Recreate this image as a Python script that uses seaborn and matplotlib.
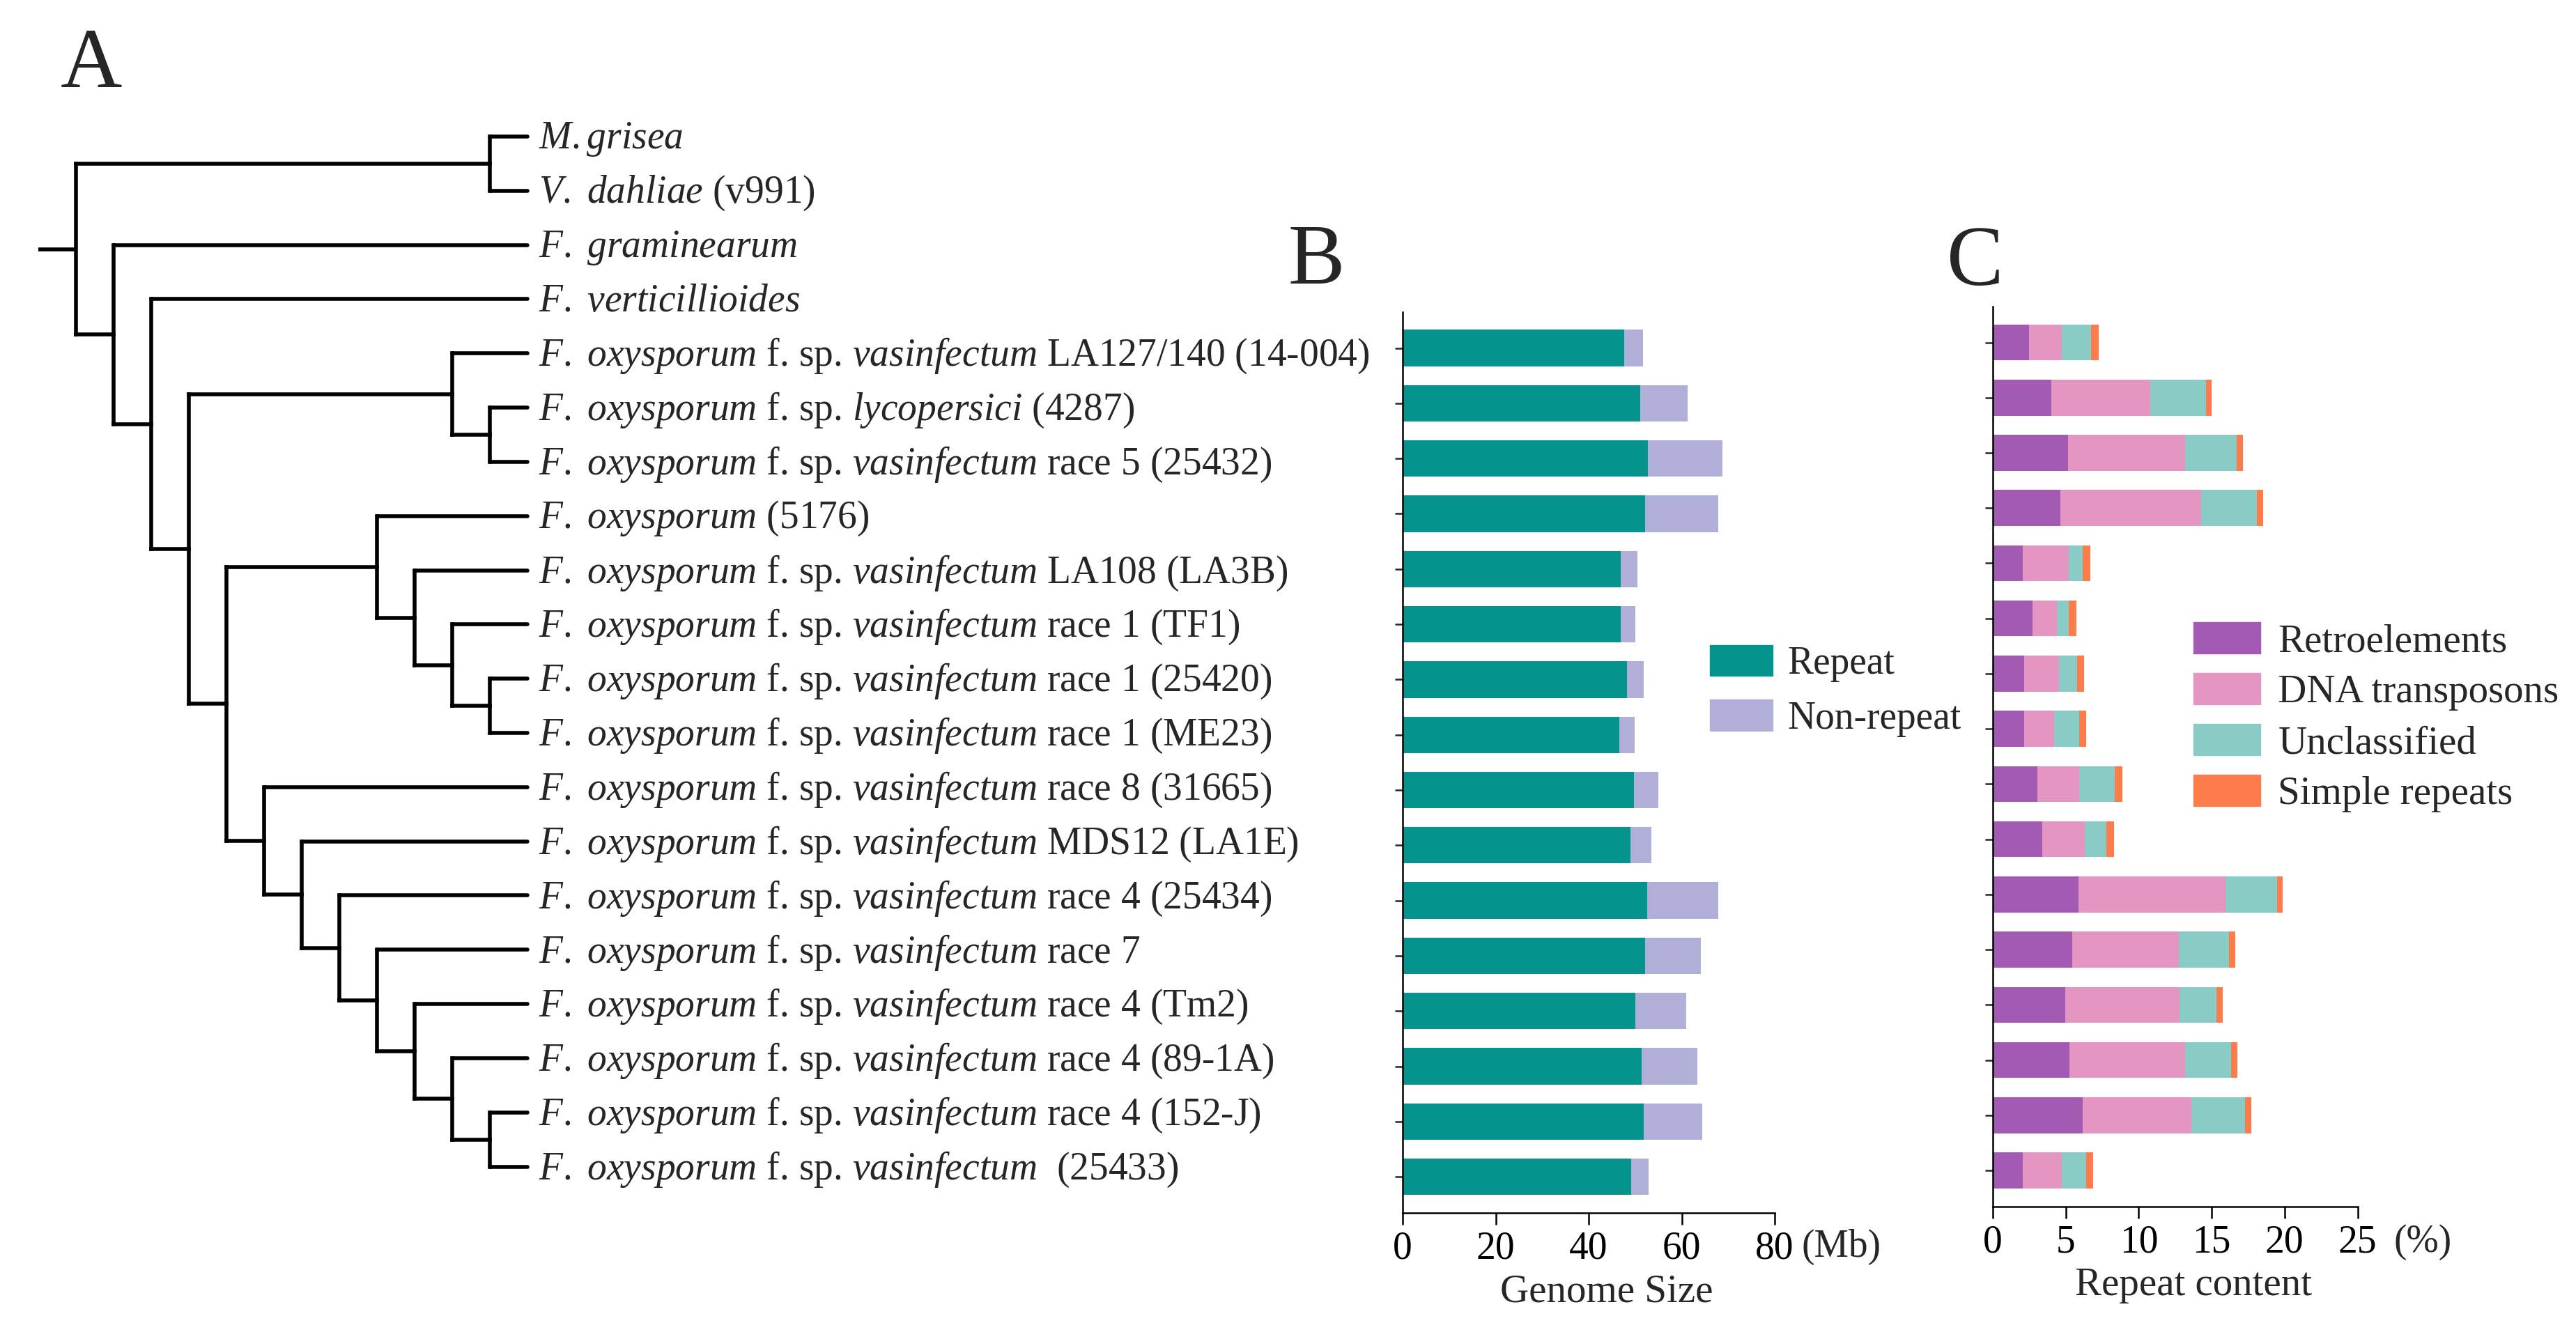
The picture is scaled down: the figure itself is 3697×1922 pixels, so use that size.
import numpy as np
import matplotlib
matplotlib.use("Agg")
import matplotlib.pyplot as plt
import matplotlib.transforms as mtransforms
from matplotlib.patches import Patch
import seaborn as sns

# ---- data ----
# leaf labels of the tree, top to bottom (mathtext italic for the latin names)
leaf_labels = [
    r"$\mathit{M.grisea}$",
    r"$\mathit{V.\ dahliae}$ (v991)",
    r"$\mathit{F.\ graminearum}$",
    r"$\mathit{F.\ verticillioides}$",
    r"$\mathit{F.\ oxysporum}$ f. sp. $\mathit{vasinfectum}$ LA127/140 (14-004)",
    r"$\mathit{F.\ oxysporum}$ f. sp. $\mathit{lycopersici}$ (4287)",
    r"$\mathit{F.\ oxysporum}$ f. sp. $\mathit{vasinfectum}$ race 5 (25432)",
    r"$\mathit{F.\ oxysporum}$ (5176)",
    r"$\mathit{F.\ oxysporum}$ f. sp. $\mathit{vasinfectum}$ LA108 (LA3B)",
    r"$\mathit{F.\ oxysporum}$ f. sp. $\mathit{vasinfectum}$ race 1 (TF1)",
    r"$\mathit{F.\ oxysporum}$ f. sp. $\mathit{vasinfectum}$ race 1 (25420)",
    r"$\mathit{F.\ oxysporum}$ f. sp. $\mathit{vasinfectum}$ race 1 (ME23)",
    r"$\mathit{F.\ oxysporum}$ f. sp. $\mathit{vasinfectum}$ race 8 (31665)",
    r"$\mathit{F.\ oxysporum}$ f. sp. $\mathit{vasinfectum}$ MDS12 (LA1E)",
    r"$\mathit{F.\ oxysporum}$ f. sp. $\mathit{vasinfectum}$ race 4 (25434)",
    r"$\mathit{F.\ oxysporum}$ f. sp. $\mathit{vasinfectum}$ race 7",
    r"$\mathit{F.\ oxysporum}$ f. sp. $\mathit{vasinfectum}$ race 4 (Tm2)",
    r"$\mathit{F.\ oxysporum}$ f. sp. $\mathit{vasinfectum}$ race 4 (89-1A)",
    r"$\mathit{F.\ oxysporum}$ f. sp. $\mathit{vasinfectum}$ race 4 (152-J)",
    r"$\mathit{F.\ oxysporum}$ f. sp. $\mathit{vasinfectum}$  (25433)",
]

# topology, leaves are indices into leaf_labels
tree = ((0, 1),
        (2, (3, ((4, (5, 6)),
                 ((7, (8, (9, (10, 11)))),
                  (12, (13, (14, (15, (16, (17, (18, 19))))))))))))

# strains with genome data (leaves 4..19)
strains = ["14-004", "4287", "25432", "5176", "LA3B", "TF1", "25420", "ME23",
           "31665", "LA1E", "25434", "race7", "Tm2", "89-1A", "152-J", "25433"]

# genome size (Mb)
repeat_mb = [47.7, 51.1, 52.7, 52.2, 46.9, 46.9, 48.2, 46.6,
             49.8, 49.0, 52.6, 52.2, 50.1, 51.4, 51.9, 49.1]
nonrepeat_mb = [4.0, 10.1, 16.1, 15.6, 3.6, 3.1, 3.7, 3.3,
                5.2, 4.5, 15.2, 11.9, 10.9, 11.9, 12.5, 3.8]

# repeat content (%)
retro = [2.49, 4.02, 5.16, 4.62, 2.05, 2.73, 2.16, 2.16,
         3.06, 3.39, 5.87, 5.44, 4.97, 5.25, 6.15, 2.05]
dna_tp = [2.26, 6.75, 8.01, 9.64, 3.17, 1.64, 2.40, 2.05,
          2.84, 2.89, 10.06, 7.29, 7.82, 7.92, 7.48, 2.70]
unclass = [1.97, 3.85, 3.55, 3.83, 0.93, 0.82, 1.21, 1.69,
           2.46, 1.51, 3.55, 3.44, 2.54, 3.17, 3.67, 1.64]
simple = [0.55, 0.38, 0.41, 0.43, 0.54, 0.55, 0.49, 0.49,
          0.52, 0.52, 0.38, 0.44, 0.44, 0.41, 0.40, 0.50]

B_colors = {"Repeat": "#04948D", "Non-repeat": "#AFAFD7"}
C_colors = {"Retroelements": "#A25AB3", "DNA transposons": "#E595C1",
            "Unclassified": "#89CCC5", "Simple repeats": "#FE7B4B"}

# ---- style ----
sns.set_theme(style="ticks")
plt.rcParams["font.family"] = ["Liberation Serif", "DejaVu Serif"]
plt.rcParams["mathtext.fontset"] = "custom"
plt.rcParams["mathtext.it"] = "Liberation Serif:italic"
plt.rcParams["mathtext.rm"] = "Liberation Serif"
plt.rcParams["axes.linewidth"] = 1.8

W, H = 3697, 1922
fig = plt.figure(figsize=(W / 100, H / 100), dpi=100)


def px_box(x0, y0, x1, y1):
    # pixel box (top-left origin) -> figure fraction rect
    return [x0 / W, 1 - y1 / H, (x1 - x0) / W, (y1 - y0) / H]


# ---- A: cladogram ----
ax_t = fig.add_axes(px_box(55, 196, 757, 1674.5))
ax_t.set_xlim(-1, 12)
ax_t.set_ylim(len(leaf_labels) - 1, 0)
ax_t.axis("off")
lw_tree = 4.0


def draw_node(node):
    """draw a subtree, return (height, y) of its root"""
    if isinstance(node, int):
        return 0, float(node)
    kids = [draw_node(k) for k in node]
    h = max(k[0] for k in kids) + 1
    x = 12 - h
    ys = [k[1] for k in kids]
    ax_t.plot([x, x], [min(ys), max(ys)], color="black", lw=lw_tree,
              solid_capstyle="projecting", clip_on=False)
    for kh, ky in kids:
        ax_t.plot([x, 12 - kh], [ky, ky], color="black", lw=lw_tree,
                  solid_capstyle="round" if kh == 0 else "projecting",
                  clip_on=False)
    return h, float(np.mean(ys))


root_h, root_y = draw_node(tree)
ax_t.plot([-1, 12 - root_h], [root_y, root_y], color="black", lw=lw_tree,
          solid_capstyle="butt", clip_on=False)
for i, lab in enumerate(leaf_labels):
    ax_t.text(12.3, i + 0.05, lab, fontsize=40, va="center", ha="left", clip_on=False)

# ---- B: genome size ----
dfB = {"strain": strains,
       "total": np.array(repeat_mb) + np.array(nonrepeat_mb),
       "repeat": np.array(repeat_mb)}
ax_b = fig.add_axes(px_box(2013, 448, 2547, 1740.7))
sns.barplot(x=dfB["total"], y=dfB["strain"], orient="h", color=B_colors["Non-repeat"],
            saturation=1, width=0.66, linewidth=0, errorbar=None, ax=ax_b)
sns.barplot(x=dfB["repeat"], y=dfB["strain"], orient="h", color=B_colors["Repeat"],
            saturation=1, width=0.66, linewidth=0, errorbar=None, ax=ax_b)

# ---- C: repeat content ----
ax_c = fig.add_axes(px_box(2860, 440, 3383.5, 1731.7))
comp = np.array([retro, dna_tp, unclass, simple])
cum = np.cumsum(comp, axis=0)
names = list(C_colors)
for k in range(3, -1, -1):
    sns.barplot(x=cum[k], y=strains, orient="h", color=C_colors[names[k]],
                saturation=1, width=0.65, linewidth=0, errorbar=None, ax=ax_c)

for ax, xmax, step in [(ax_b, 80, 20), (ax_c, 25, 5)]:
    ax.set_xlim(0, xmax)
    ax.set_ylim(15.65, -0.65)
    ax.set_xticks(np.arange(0, xmax + 1, step))
    ax.set_ylabel("")
    ax.set_xlabel("")
    ax.tick_params(axis="y", length=8, width=1.8, direction="out", labelleft=False)
    ax.tick_params(axis="x", length=12.2, width=1.8, direction="out", pad=6.5,
                   labelsize=40, colors="black")
    for s in ["left", "bottom"]:
        ax.spines[s].set_color("black")
        ax.spines[s].set_linewidth(1.8)
    sns.despine(ax=ax)

blend_b = mtransforms.blended_transform_factory(ax_b.transData, ax_b.transAxes)
ax_b.text(85.7, -0.049, "(Mb)", transform=blend_b, fontsize=40, va="baseline", ha="left")
ax_b.text(0.549, -0.0985, "Genome Size", transform=ax_b.transAxes, fontsize=41,
          va="baseline", ha="center")
blend_c = mtransforms.blended_transform_factory(ax_c.transData, ax_c.transAxes)
ax_c.text(27.46, -0.0503, "(%)", transform=blend_c, fontsize=40, va="baseline", ha="left")
ax_c.text(0.551, -0.0988, "Repeat content", transform=ax_c.transAxes, fontsize=41,
          va="baseline", ha="center")

# legends
fig.legend(handles=[Patch(color=c, label=l) for l, c in B_colors.items()],
           loc="upper left", bbox_to_anchor=(2454 / W, 1 - 926 / H),
           frameon=False, fontsize=40, handlelength=1.62, handleheight=0.85,
           handletextpad=0.38, labelspacing=0.45, borderpad=0, borderaxespad=0)
fig.legend(handles=[Patch(color=c, label=l) for l, c in C_colors.items()],
           loc="upper left", bbox_to_anchor=(3148 / W, 1 - 893 / H),
           frameon=False, fontsize=41, handlelength=1.69, handleheight=0.84,
           handletextpad=0.44, labelspacing=0.33, borderpad=0, borderaxespad=0)

# panel letters
for letter, x, y in [("A", 87, 125), ("B", 1848, 407), ("C", 2794, 409)]:
    fig.text(x / W, 1 - y / H, letter, fontsize=88, va="baseline", ha="left")

fig.savefig("out.png", dpi=100, facecolor="white")
